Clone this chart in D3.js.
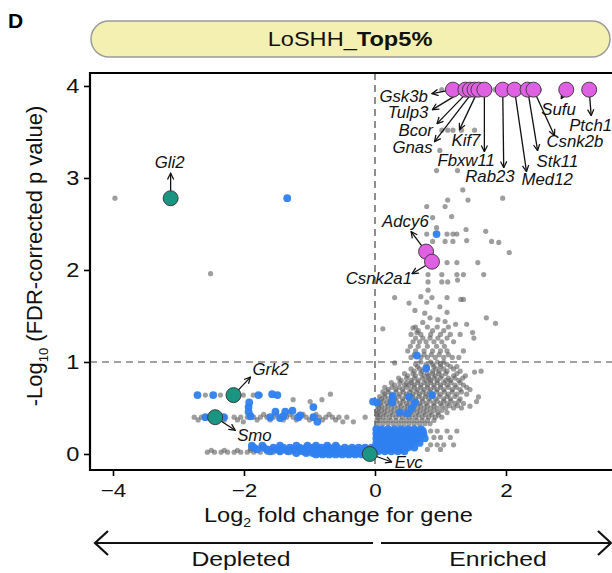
<!DOCTYPE html>
<html><head><meta charset="utf-8">
<script src="https://cdn.jsdelivr.net/npm/d3@7"></script>
<style>
html,body{margin:0;padding:0;background:#fff;}
svg{display:block;font-family:"Liberation Sans",Arial,Helvetica,sans-serif;}
</style></head><body>
<svg id="chart" width="612" height="573"></svg>
<script>
// ---------------- DATA ----------------
const panelLetter = "D";
const titleRegular = "LoSHH_";
const titleBold = "Top5%";
const xTicks = [-4, -2, 0, 2];
const yTicks = [0, 1, 2, 3, 4];
const fdrThreshold = 1;
const directionLabels = ["Depleted", "Enriched"];

// gray (non-Hh) genes: scattered points [log2FC, -log10 FDR]
const grayScatter = [
  [-3.97,2.78],[-2.51,1.96],
  [1.02,3.96],[1.11,3.96],[1.25,3.96],[1.34,3.96],[1.42,3.96],[1.52,3.96],[1.60,3.96],[1.83,3.96],[1.87,3.96],[2.02,3.96],[2.21,3.96],[2.31,3.96],[2.47,3.96],[2.51,3.96],[2.97,3.96],
  [1.02,3.52],[1.11,3.52],[1.19,3.52],[1.32,3.52],[1.52,3.52],
  [0.99,3.30],[0.94,3.08],[1.26,3.08],
  [1.34,2.87],[1.42,2.76],[1.11,2.76],[1.95,2.78],
  [0.79,2.69],[1.07,2.69],[1.17,2.58],[0.88,2.57],
  [0.94,2.46],[1.39,2.44],[1.69,2.42],
  [0.79,2.39],[1.10,2.39],[1.25,2.39],[1.19,2.39],
  [0.88,2.31],[1.07,2.31],[1.19,2.31],[1.40,2.32],[1.78,2.31],[1.89,2.30],
  [2.05,2.19],[1.10,2.08],[1.25,2.08],[1.57,2.08],
  [0.81,1.95],[1.02,1.95],[1.25,1.95],[1.35,1.95],[1.66,1.95],
  [1.02,1.87],[1.11,1.87],[1.26,1.89],[0.81,1.87],[0.81,1.78],
  [0.30,1.70],[0.70,1.71],[0.87,1.70],[1.10,1.70],[1.31,1.68],[1.35,1.68],
  [0.52,1.64],[0.79,1.65],[0.99,1.60],[0.61,1.56],[0.76,1.53],[1.10,1.54],
  [1.70,1.48],[1.84,1.42],
  [0.12,1.36],[0.58,1.37],[0.73,1.43],[0.84,1.48],[0.96,1.46],[1.07,1.44],[1.23,1.41],[1.40,1.41],
  [1.49,1.32],[0.64,1.32],[1.51,1.26],
  [0.30,0.99],[1.52,0.89],[1.58,0.62],[1.62,0.90],[1.45,0.52],[1.55,0.57],
  [-0.15,0.40],
  [-2.59,0.64],[-2.36,0.64],[-2.01,0.64],[-1.86,0.64],[-1.75,0.64],[-1.25,0.59],[-0.81,0.59],[-0.68,0.65],[-0.99,0.57],
  [-2.01,0.35],[-0.33,0.35],[-0.49,0.35]
];
// gray genes read row by row: [-log10 FDR, [log2FC ...]]
const grayRows = [
  [1.38,[0.62,0.80,0.95,1.12]],
  [1.34,[0.66,0.88,1.05]],
  [1.30,[0.55,0.70,0.85,1.00,1.15,1.30]],
  [1.26,[0.62,0.73,0.84,0.96,1.10]],
  [1.22,[0.58,0.68,0.78,0.90,1.02,1.20]],
  [1.17,[0.54,0.66,0.80,0.94,1.06]],
  [1.12,[0.50,0.62,0.75,0.88,1.00,1.10,1.35]],
  [1.08,[0.60,0.75,0.86,0.98,1.12]],
  [1.05,[0.55,0.70,0.80,0.92,1.05,1.18,1.28]],
  [1.00,[0.70,0.85,0.95,1.05]],
  [0.975,[0.62,0.78,0.88,1.00,1.10]],
  [0.95,[0.65,0.80,0.90,1.00,1.15,1.25]],
  [0.925,[0.55,0.68,0.80,0.93,1.05,1.20]],
  [0.90,[0.60,0.72,0.88,0.98,1.10,1.30]],
  [0.875,[0.45,0.58,0.70,0.80,0.88,0.97,1.08,1.25]],
  [0.85,[0.50,0.62,0.75,0.82,0.92,1.02,1.20,1.38]],
  [0.825,[0.36,0.48,0.60,0.72,0.82,0.90,1.00,1.12,1.22,1.34]],
  [0.80,[0.40,0.55,0.66,0.78,0.85,0.95,1.08,1.15,1.28]],
  [0.775,[0.25,0.38,0.48,0.56,0.65,0.75,0.85,0.95,1.05,1.16,1.30]],
  [0.75,[0.30,0.45,0.52,0.60,0.70,0.80,0.90,1.00,1.10,1.22,1.35]],
  [0.725,[0.15,0.26,0.37,0.48,0.60,0.70,0.80,0.90,1.00,1.12,1.24,1.40]],
  [0.70,[0.20,0.32,0.42,0.55,0.65,0.75,0.85,0.95,1.05,1.18,1.30,1.45]],
  [0.675,[0.12,0.20,0.32,0.43,0.53,0.63,0.73,0.83,0.94,1.06,1.18,1.32]],
  [0.65,[0.15,0.25,0.38,0.48,0.58,0.68,0.78,0.88,1.00,1.12,1.25,1.40]],
  [0.625,[0.07,0.15,0.25,0.36,0.47,0.57,0.67,0.77,0.87,0.98,1.10,1.22]],
  [0.60,[0.10,0.20,0.30,0.42,0.52,0.62,0.72,0.82,0.92,1.05,1.15,1.30]],
  [0.575,[0.05,0.13,0.23,0.33,0.43,0.53,0.63,0.73,0.84,0.95,1.05,1.16,1.28]],
  [0.55,[0.08,0.18,0.28,0.38,0.48,0.58,0.68,0.78,0.90,1.00,1.10,1.22,1.35]],
  [0.525,[0.04,0.10,0.20,0.30,0.40,0.50,0.60,0.70,0.80,0.90,1.02,1.14,1.26]],
  [0.50,[0.06,0.15,0.25,0.35,0.45,0.55,0.65,0.75,0.85,0.95,1.08,1.20,1.32]],
  [0.475,[0.03,0.10,0.19,0.29,0.39,0.49,0.59,0.69,0.79,0.90,1.02]],
  [0.45,[0.05,0.14,0.24,0.34,0.44,0.54,0.64,0.74,0.84,0.96,1.10]],
  [0.425,[0.03,0.08,0.17,0.27,0.37,0.47,0.57,0.67,0.77,0.87,0.97]],
  [0.40,[0.04,0.12,0.22,0.32,0.42,0.52,0.62,0.72,0.82,0.92,1.02]],
  [0.365,[0.03,0.08,0.16,0.24,0.32,0.40,0.48,0.56,0.64,0.72,0.80,0.90]],
  [0.33,[0.04,0.12,0.20,0.28,0.36,0.44,0.52,0.60,0.68,0.76,0.84]],
  [0.25,[0.85,0.95,1.10,1.25]],
  [0.18,[0.90,1.00,1.15]],
  [0.10,[0.85,0.95,1.05,1.20]],
  [0.05,[0.80,1.00]],
  [0.40,[-2.76,-2.65,-2.55,-2.40,-2.28,-2.15,-2.05,-1.95,-1.85,-1.75,-1.65,-1.55,-1.45,-1.35,-1.25,-1.15,-1.05,-0.95,-0.85,-0.75,-0.65,-0.55,-0.43]],
  [0.43,[-1.90,-1.70,-1.50,-1.30,-1.10,-0.90,-0.70]],
  [0.37,[-2.70,-2.50,-2.30,-2.10,-1.80,-1.60,-1.40,-1.20,-1.00,-0.80,-0.60]],
  [0.02,[-2.56,-2.45,-2.35,-2.25,-2.15,-2.05,-1.95,-1.85,-1.75,-1.65,-1.55,-1.45,-1.35,-1.25,-1.15,-1.05,-0.95,-0.85,-0.75,-0.65,-0.55,-0.45,-0.35,-0.25,-0.15,-0.05]],
  [0.04,[-2.50,-2.30,-2.10,-1.90]],
  [0.06,[-1.90,-1.60,-1.30]]
];

// blue (Hh-pathway annotated) genes
const blueScatter = [
  [-1.34,2.78],[0.94,2.39],[0.64,1.07],[0.78,0.93],[0.27,0.63],[0.52,0.62],[0.87,0.64],
  [0.03,0.56],[-0.03,0.57],[0.26,0.56],[0.61,0.56],[0.56,0.50],[0.38,0.45],[0.50,0.44],[0.73,0.25],
  [-2.71,0.64],[-2.47,0.64],[-1.78,0.64],[-1.57,0.65],[-1.49,0.64],[-1.93,0.51],[-1.93,0.46],[-1.92,0.56],
  [-0.94,0.51],[-1.26,0.47],[-1.37,0.46],[-1.52,0.46],[-2.59,0.40],[-2.31,0.40],[-1.90,0.41],[-1.60,0.40],
  [-1.45,0.39],[-1.40,0.41],[-1.17,0.40],[-1.14,0.42],[-0.94,0.40],[-0.88,0.35]
];
const blueRows = [
  [0.27,[0.02,0.10,0.20,0.30,0.40,0.50,0.60,0.70]],
  [0.245,[0.06,0.14,0.22,0.30,0.38,0.46,0.54,0.62,0.70]],
  [0.22,[0.02,0.10,0.18,0.26,0.34,0.42,0.50,0.58,0.66,0.74]],
  [0.195,[0.06,0.14,0.22,0.30,0.38,0.46,0.54,0.62,0.70]],
  [0.17,[0.02,0.10,0.18,0.26,0.34,0.42,0.50,0.58,0.66,0.76]],
  [0.145,[0.06,0.14,0.22,0.30,0.38,0.46,0.54,0.62]],
  [0.12,[0.02,0.10,0.18,0.26,0.34,0.42,0.50,0.58,0.68]],
  [0.095,[0.04,0.12,0.20,0.28,0.36,0.45,0.55]],
  [0.07,[0.00,0.08,0.16,0.24,0.32,0.40,0.50,0.60]],
  [0.05,[0.04,0.12,0.20,0.30,0.40]],
  [0.03,[-0.05,0.05,0.15,0.25,0.35,0.45]],
  [0.09,[-1.88,-1.72,-1.45,-1.20,-1.03,-0.90,-0.73,-0.60]],
  [0.07,[-1.85,-1.70,-1.55,-1.40,-1.30,-1.15,-1.05,-0.95,-0.82,-0.70,-0.58,-0.46,-0.35,-0.25,-0.15,-0.05]],
  [0.05,[-1.80,-1.65,-1.50,-1.38,-1.25,-1.12,-1.00,-0.88,-0.76,-0.64,-0.52,-0.40,-0.30,-0.20,-0.10]],
  [0.03,[-1.60,-1.45,-1.32,-1.10,-1.00,-0.90,-0.80,-0.70,-0.60,-0.50,-0.40,-0.30,-0.20,-0.12]],
  [0.01,[-1.20,-1.05,-0.95,-0.85,-0.75,-0.65,-0.55,-0.45,-0.35,-0.25,-0.15,-0.08]],
  [-0.005,[-0.90,-0.80,-0.70,-0.60,-0.50,-0.40,-0.30,-0.20,-0.12,-0.02]]
];

// highlighted Hh-pathway genes
const hitGenes = ["Gsk3b","Tulp3","Bcor","Gnas","Kif7","Fbxw11","Rab23","Med12","Stk11","Csnk2b","Sufu","Ptch1","Adcy6","Csnk2a1","Gli2","Grk2","Smo","Evc"];
const hitLFC   = [1.19,1.38,1.45,1.52,1.58,1.67,1.95,2.13,2.33,2.42,2.92,3.27,0.78,0.87,-3.12,-2.16,-2.44,-0.08];
const hitFDR   = [3.96,3.96,3.96,3.96,3.96,3.96,3.96,3.96,3.96,3.96,3.96,3.96,2.20,2.09,2.78,0.64,0.40,0.00];
const hitClass = ["neg","neg","neg","neg","neg","neg","neg","neg","neg","neg","neg","neg","neg","neg","pos","pos","pos","pos"];

// ---------------- LAYOUT / STYLE ----------------
const plot = {left: 90, top: 73, bottom: 470, right: 640};
const SX = 1.18;   // horizontal stretch of the original figure's text
const SXL = 1.05;  // stretch for gene labels
const colors = {gray: "#5e5e5e", blue: "#2f7ff0", neg: "#e060e3", pos: "#1a9582", banner: "#f3f0b1"};
const labelLayout = {
  Gsk3b:  {ax:-21, ay:4,  tx:-25, ty:12, a:"end"},
  Tulp3:  {ax:-33, ay:20, tx:-37, ty:28, a:"end"},
  Bcor:   {ax:-33, ay:34, tx:-37, ty:46, a:"end"},
  Gnas:   {ax:-40, ay:52, tx:-42, ty:63, a:"end"},
  Kif7:   {ax:-19, ay:40, tx:-27, ty:56, a:"start"},
  Fbxw11: {ax:0,   ay:62, tx:-47, ty:76, a:"start"},
  Rab23:  {ax:1,   ay:78, tx:12,  ty:92, a:"end"},
  Med12:  {ax:12,  ay:82, tx:7,   ty:95, a:"start"},
  Stk11:  {ax:10,  ay:61, tx:9,   ty:77, a:"start"},
  Csnk2b: {ax:21,  ay:46, tx:13,  ty:57, a:"start"},
  Sufu:   {ax:-5,  ay:9,  tx:-25, ty:25, a:"start"},
  Ptch1:  {ax:2,   ay:26, tx:-20, ty:41, a:"start"},
  Adcy6:  {ax:-15, ay:-20,tx:-44, ty:-25,a:"start"},
  Csnk2a1:{ax:-20, ay:12, tx:-20, ty:22, a:"end"},
  Gli2:   {ax:0,   ay:-25,tx:-1,  ty:-30,a:"middle"},
  Grk2:   {ax:17,  ay:-18,tx:19,  ty:-20,a:"start"},
  Smo:    {ax:20,  ay:13, tx:22,  ty:24, a:"start"},
  Evc:    {ax:22,  ay:8,  tx:25,  ty:14, a:"start"}
};

const svg = d3.select("#chart");
const x = d3.scaleLinear().domain([-4.351, 4.09]).range([plot.left, plot.left + 8.441*65.5]);
const y = d3.scaleLinear().domain([-0.174, 4.141]).range([plot.bottom, plot.top]);

function stxt(g, px, py, anchor, size, sx) {
  return g.append("text")
    .attr("transform", `translate(${px},${py}) scale(${sx || SX},1)`)
    .attr("text-anchor", anchor).attr("font-size", size);
}

svg.append("text").attr("x", 8).attr("y", 28).attr("font-size", 21).attr("font-weight", "bold").text(panelLetter);

// banner
svg.append("rect").attr("x", 91).attr("y", 21).attr("width", 519).attr("height", 36).attr("rx", 18)
  .attr("fill", colors.banner).attr("stroke", "#9a9a9a").attr("stroke-width", 1.5);
const bt = stxt(svg, 350, 46, "middle", 20).attr("fill", "#111");
bt.append("tspan").text(titleRegular);
bt.append("tspan").attr("font-weight", "bold").text(titleBold);

svg.append("clipPath").attr("id", "clip").append("rect")
  .attr("x", plot.left).attr("y", plot.top).attr("width", plot.right - plot.left).attr("height", plot.bottom - plot.top);
const gp = svg.append("g").attr("clip-path", "url(#clip)");

gp.append("line").attr("x1", x(0)).attr("x2", x(0)).attr("y1", plot.top).attr("y2", plot.bottom)
  .attr("stroke", "#444").attr("stroke-width", 1.2).attr("stroke-dasharray", "7,5");
gp.append("line").attr("x1", plot.left).attr("x2", plot.right).attr("y1", y(fdrThreshold)).attr("y2", y(fdrThreshold))
  .attr("stroke", "#444").attr("stroke-width", 1.2).attr("stroke-dasharray", "7,5");

const grayPts = grayScatter.concat(grayRows.flatMap(([fy, xs]) => xs.map(fx => [fx, fy])));
const bluePts = blueScatter.concat(blueRows.flatMap(([fy, xs]) => xs.map(fx => [fx, fy])));

gp.append("g").selectAll("circle").data(grayPts).join("circle")
  .attr("cx", d => x(d[0])).attr("cy", d => y(d[1])).attr("r", 2.6)
  .attr("fill", colors.gray).attr("fill-opacity", 0.6);
gp.append("g").selectAll("circle").data(bluePts).join("circle")
  .attr("cx", d => x(d[0])).attr("cy", d => y(d[1])).attr("r", 3.9)
  .attr("fill", colors.blue).attr("fill-opacity", 0.95);

svg.append("defs").append("marker").attr("id", "arr")
  .attr("viewBox", "0 0 10 10").attr("refX", 9).attr("refY", 5)
  .attr("markerWidth", 6).attr("markerHeight", 6).attr("orient", "auto")
  .append("path").attr("d", "M1,1 L9,5 L1,9").attr("fill", "none").attr("stroke", "#111").attr("stroke-width", 1.6);

const hits = hitGenes.map((g, i) => ({g, lfc: hitLFC[i], fdr: hitFDR[i], cls: hitClass[i]}));
const ga = svg.append("g");
hits.forEach(h => {
  const L = labelLayout[h.g], px = x(h.lfc), py = y(h.fdr);
  ga.append("line").attr("x1", px).attr("y1", py).attr("x2", px + L.ax).attr("y2", py + L.ay)
    .attr("stroke", "#111").attr("stroke-width", 1.3).attr("marker-end", "url(#arr)");
});
svg.append("g").selectAll("circle").data(hits).join("circle")
  .attr("cx", d => x(d.lfc)).attr("cy", d => y(d.fdr)).attr("r", 7.5)
  .attr("fill", d => colors[d.cls]).attr("stroke", "#333").attr("stroke-width", 0.9);
hits.forEach(h => {
  const L = labelLayout[h.g], px = x(h.lfc), py = y(h.fdr);
  stxt(svg, px + L.tx, py + L.ty, L.a, 16, SXL).attr("font-style", "italic").attr("fill", "#111").text(h.g);
});

svg.append("path").attr("d", `M${plot.right},${plot.top} H${plot.left} V${plot.bottom} H${plot.right}`)
  .attr("fill", "none").attr("stroke", "#000").attr("stroke-width", 2.2);

const ax = svg.append("g").attr("transform", `translate(0,${plot.bottom})`)
  .call(d3.axisBottom(x).tickValues(xTicks).tickSize(6).tickPadding(8).tickFormat(d3.format("d")));
ax.select(".domain").remove();
ax.selectAll("line").attr("stroke-width", 1.6);
ax.selectAll("text").attr("font-size", 19).attr("font-family", null).attr("fill", "#111")
  .attr("transform", `scale(${SX},1)`);
const ay = svg.append("g").attr("transform", `translate(${plot.left},0)`)
  .call(d3.axisLeft(y).tickValues(yTicks).tickSize(6).tickPadding(3).tickFormat(d3.format("d")));
ay.select(".domain").remove();
ay.selectAll("line").attr("stroke-width", 1.6);
ay.selectAll("text").attr("font-size", 20).attr("font-family", null).attr("fill", "#111")
  .attr("transform", `scale(${SX},1)`);

const xt = stxt(svg, 204, 522, "start", 20).attr("fill", "#111");
xt.append("tspan").text("Log");
xt.append("tspan").attr("font-size", 12).attr("dy", 5).text("2");
xt.append("tspan").attr("dy", -5).text(" fold change for gene");

const yt = svg.append("text").attr("transform", "translate(42,256) rotate(-90)")
  .attr("text-anchor", "middle").attr("font-size", 22).attr("fill", "#111");
yt.append("tspan").text("-Log");
yt.append("tspan").attr("font-size", 13).attr("dy", 6).text("10");
yt.append("tspan").attr("dy", -6).text(" (FDR-corrected p value)");

const arrowY = 543;
svg.append("path").attr("d", `M95,${arrowY} H373 M108,${arrowY - 12} L95,${arrowY} L108,${arrowY + 12}`)
  .attr("fill", "none").attr("stroke", "#111").attr("stroke-width", 2.2);
svg.append("path").attr("d", `M381,${arrowY} H610 M598,${arrowY - 12} L611,${arrowY} L598,${arrowY + 12}`)
  .attr("fill", "none").attr("stroke", "#111").attr("stroke-width", 2.2);
stxt(svg, 241, 566, "middle", 21).attr("fill", "#111").text(directionLabels[0]);
stxt(svg, 498, 566, "middle", 21).attr("fill", "#111").text(directionLabels[1]);
</script>
</body></html>
